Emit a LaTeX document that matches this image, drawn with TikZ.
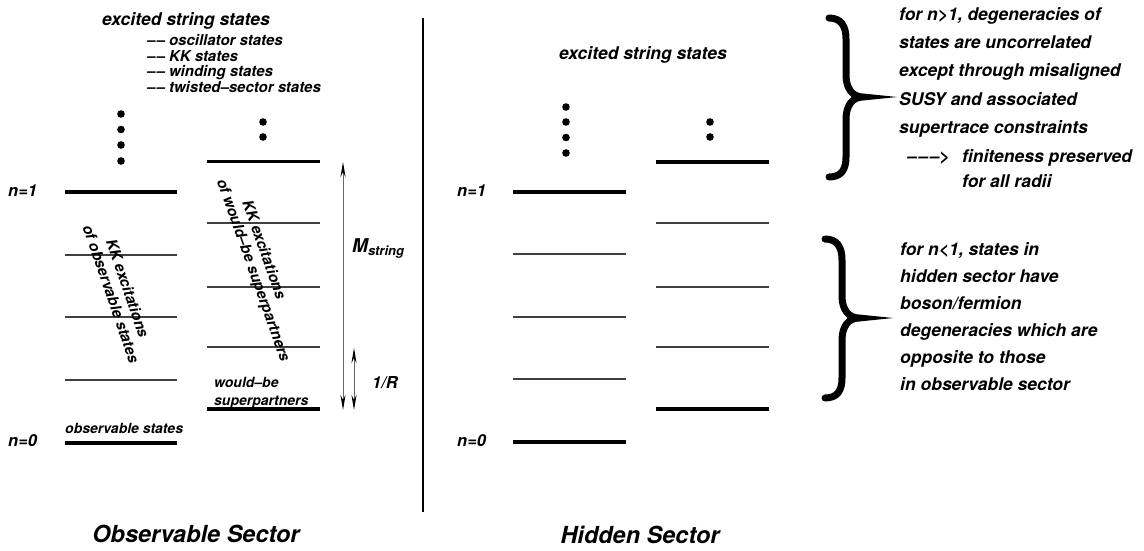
\documentclass[tikz,border=0pt]{standalone}
\usepackage{fontspec}
\setmainfont{TeX Gyre Heros}
\usetikzlibrary{arrows.meta}
\begin{document}
\begin{tikzpicture}[x=1pt,y=-1pt,
    every node/.style={inner sep=0pt},
    big/.style={font=\fontsize{17.5}{28.3}\selectfont\bfseries\itshape},
    mid/.style={font=\fontsize{15}{15.7}\selectfont\bfseries\itshape},
    small/.style={font=\fontsize{14}{18}\selectfont\bfseries\itshape},
    lab/.style={font=\fontsize{16.5}{20}\selectfont\bfseries\itshape},
    sector/.style={font=\fontsize{23.5}{28}\selectfont\bfseries\itshape},
    thick level/.style={line width=3.2pt},
    thin level/.style={line width=1.1pt, black!75},
    gap/.style={black!60, line width=0.9pt, {Stealth[length=15pt,width=5pt,black]}-{Stealth[length=15pt,width=5pt,black]}},
    curly/.style={line width=7pt, line cap=round},
    pics/bracket/.style={code={
        \draw[curly] (-34,-79) .. controls (-22,-79) and (-17,-71) .. (-17,-58) -- (-17,-22)
            .. controls (-17,-8) and (-10,0) .. (0,0) .. controls (-10,0) and (-17,8) .. (-17,22)
            -- (-17,60) .. controls (-17,73) and (-22,80) .. (-34,80);
    }}]
    \useasboundingbox (0,0) rectangle (1144,550);

    \node[big, anchor=base] (1) at (186,25.5) {excited string states};
    \node[mid, anchor=north west, align=left] (2) at (147,34)
    {\textendash\kern1pt\textendash\ oscillator states\\
     \textendash\kern1pt\textendash\ KK states\\
     \textendash\kern1pt\textendash\ winding states\\
     \textendash\kern1pt\textendash\ twisted\textendash sector states};

    \fill (121,114) circle (3.8);
    \fill (121,129.5) circle (3.8);
    \fill (121,145) circle (3.8);
    \fill (121,161) circle (3.8);
    \fill (263,122) circle (3.8);
    \fill (263,137) circle (3.8);

    \node[lab, anchor=base west] (3) at (8,196.7) {n=1};
    \node[lab, anchor=base west] (4) at (8,446.7) {n=0};
    \node[small, anchor=base west] (5) at (65,433) {observable states};
    \node[small, anchor=north west, align=left] (6) at (214,376.8) {would\textendash be\\superpartners};

    \draw[thick level] (65,192) -- (177,192);
    \draw[thin level] (65,255) -- (177,255);
    \draw[thin level] (65,317) -- (177,317);
    \draw[thin level] (65,380) -- (177,380);
    \draw[thick level] (65,443) -- (177,443);

    \draw[thick level] (207,161.5) -- (320,161.5);
    \draw[thin level] (207,223) -- (320,223);
    \draw[thin level] (207,287) -- (320,287);
    \draw[thin level] (207,347) -- (320,347);
    \draw[thick level] (207,409) -- (320,409);

    \node[mid, rotate=-71, align=center, font=\fontsize{15}{17.5}\selectfont\bfseries\itshape] (7) at (119.5,291)
    {KK excitations\\of observable states};
    \node[mid, rotate=-70.5] (8) at (264.6,249.6) {KK excitations};
    \node[mid, rotate=-70.5] (9) at (252.4,270.4) {of would\textendash be superpartners};

    \coordinate (m1) at (343,162);
    \coordinate (m2) at (343,410);
    \coordinate (r1) at (354,348);
    \coordinate (r2) at (354,410);
    \draw[gap] (m1) -- (m2);
    \draw[gap] (r1) -- (r2);
    \node[anchor=base west, font=\fontsize{19}{20}\selectfont\bfseries\itshape] (10) at (352,252)
    {M\raisebox{-3.5pt}{\fontsize{13}{13}\selectfont string}};
    \node[lab, anchor=base west] (11) at (372,388) {1/R};

    \coordinate (d1) at (423,18);
    \coordinate (d2) at (423,512);
    \draw[line width=1.2pt] (d1) -- (d2);

    \node[big, anchor=base] (12) at (643,59.7) {excited string states};
    \fill (566,107) circle (3.8);
    \fill (566,122) circle (3.8);
    \fill (566,137.5) circle (3.8);
    \fill (566,153) circle (3.8);
    \fill (710,122) circle (3.8);
    \fill (710,137) circle (3.8);

    \node[lab, anchor=base west] (13) at (457,196.7) {n=1};
    \node[lab, anchor=base west] (14) at (457,446.7) {n=0};

    \draw[thick level] (513,192) -- (626,192);
    \draw[thin level] (513,254) -- (626,254);
    \draw[thin level] (513,317) -- (626,317);
    \draw[thin level] (513,379) -- (626,379);
    \draw[thick level] (513,442) -- (626,442);

    \draw[thick level] (656,162) -- (769,162);
    \draw[thin level] (656,223) -- (769,223);
    \draw[thin level] (656,287) -- (769,287);
    \draw[thin level] (656,347) -- (769,347);
    \draw[thick level] (656,409) -- (769,409);

    \pic at (863,97) {bracket};
    \pic at (859,318) {bracket};

    \node[big, anchor=north west, align=left] (15) at (899,7.2)
    {for n>1, degeneracies of\\states are uncorrelated\\except through misaligned\\SUSY and associated\\supertrace constraints};
    \node[big, anchor=base west] (16) at (907,162) {\textendash\kern1.5pt\textendash\kern1.5pt\textendash>};
    \node[big, anchor=north west, align=left, font=\fontsize{17.5}{25}\selectfont\bfseries\itshape] (17) at (962,149.2)
    {finiteness preserved\\for all radii};
    \node[big, anchor=north west, align=left, font=\fontsize{17.5}{27}\selectfont\bfseries\itshape] (18) at (900,242)
    {for n<1, states in\\hidden sector have\\boson/fermion\\degeneracies which are\\opposite to those\\in observable sector};

    \node[sector, anchor=base] (19) at (196,542) {Observable Sector};
    \node[sector, anchor=base] (20) at (640,543) {Hidden Sector};
\end{tikzpicture}
\end{document}
